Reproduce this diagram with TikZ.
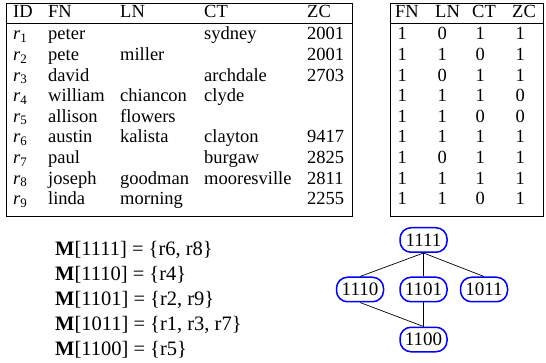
\documentclass[tikz,border=0pt]{standalone}
\usepackage{fontspec}
\setmainfont{Liberation Serif}
\begin{document}
\begin{tikzpicture}[x=1pt,y=-1pt,
  cell/.style={anchor=base west,inner sep=0pt,font=\fontsize{18.5}{20}\selectfont},
  mline/.style={anchor=base west,inner sep=0pt,font=\fontsize{20.5}{24}\selectfont},
  lat/.style={draw=blue,line width=1.5pt,rounded corners=11pt,minimum width=47pt,
    minimum height=24.5pt,inner sep=1pt,font=\fontsize{19}{20}\selectfont},
  edge/.style={line width=0.7pt}]
\useasboundingbox (0,0) rectangle (546,363);

% left table: records
\draw[line width=0.8pt] (6,3) rectangle (352,216);
\draw[line width=0.8pt] (6,23) -- (352,23);
\foreach \t/\x in {ID/13,FN/48,LN/120,CT/204,ZC/307}
  \node[cell] (h\t) at (\x,18) {\t};
\foreach \i/\fn/\ln/\ct/\zc [count=\k from 0] in {
  1/peter//sydney/2001,
  2/pete/miller//2001,
  3/david//archdale/2703,
  4/william/chiancon/clyde/,
  5/allison/flowers//,
  6/austin/kalista/clayton/9417,
  7/paul//burgaw/2825,
  8/joseph/goodman/mooresville/2811,
  9/linda/morning//2255}{
  \pgfmathsetmacro{\yy}{40+20.6*\k}
  \node[cell] (id\i) at (13,\yy) {\textit{r}\textsubscript{\i}};
  \node[cell] (fn\i) at (48,\yy) {\fn};
  \node[cell] (ln\i) at (120,\yy) {\ln};
  \node[cell] (ct\i) at (204,\yy) {\ct};
  \node[cell] (zc\i) at (307,\yy) {\zc};
}

% right table: attribute patterns
\draw[line width=0.8pt] (390,3) rectangle (543,216);
\draw[line width=0.8pt] (390,23) -- (543,23);
\foreach \t/\x in {FN/395,LN/435,CT/472,ZC/512}
  \node[cell] (p\t) at (\x,18) {\t};
\foreach \a/\b/\c/\d [count=\k from 0] in {
  1/0/1/1, 1/1/0/1, 1/0/1/1, 1/1/1/0, 1/1/0/0,
  1/1/1/1, 1/0/1/1, 1/1/1/1, 1/1/0/1}{
  \pgfmathsetmacro{\yy}{40+20.6*\k}
  \node[cell] (pa\k) at (397.5,\yy) {\a};
  \node[cell] (pb\k) at (437.5,\yy) {\b};
  \node[cell] (pc\k) at (475.5,\yy) {\c};
  \node[cell] (pd\k) at (515.5,\yy) {\d};
}

% pattern groups
\node[mline] (m1) at (55,256) {\textbf{M}[1111] = \{r6, r8\}};
\node[mline] (m2) at (55,280.75) {\textbf{M}[1110] = \{r4\}};
\node[mline] (m3) at (55,305.5) {\textbf{M}[1101] = \{r2, r9\}};
\node[mline] (m4) at (55,330.25) {\textbf{M}[1011] = \{r1, r3, r7\}};
\node[mline] (m5) at (55,355) {\textbf{M}[1100] = \{r5\}};

% lattice of patterns
\node[lat] (n1111) at (423.5,240) {1111};
\node[lat] (n1110) at (360,289.5) {1110};
\node[lat] (n1101) at (423.5,289.5) {1101};
\node[lat] (n1011) at (484,289.5) {1011};
\node[lat] (n1100) at (423.5,339.5) {1100};
\draw[edge] (n1111.south) -- (n1110.north);
\draw[edge] (n1111.south) -- (n1101.north);
\draw[edge] (n1111.south) -- (n1011.north);
\draw[edge] (n1110.south) -- (n1100.north);
\draw[edge] (n1101.south) -- (n1100.north);
\end{tikzpicture}
\end{document}
